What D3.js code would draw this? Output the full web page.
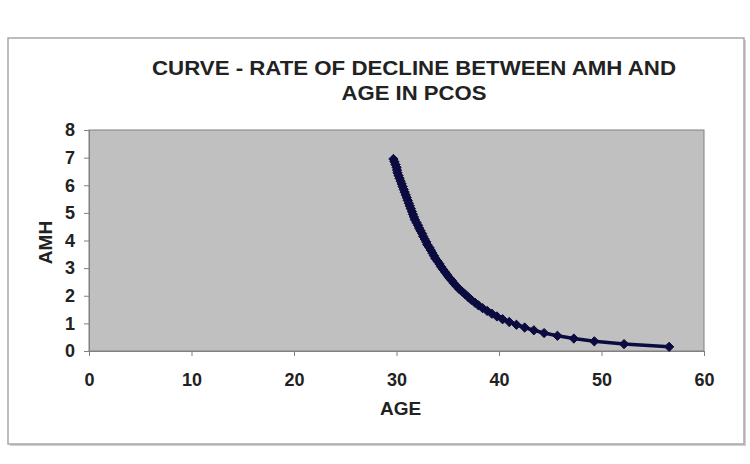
<!DOCTYPE html>
<html>
<head>
<meta charset="utf-8">
<script src="https://cdn.jsdelivr.net/npm/d3@7"></script>
<style>
  body { margin: 0; background: #fff; }
  text { font-family: "Liberation Sans", Arial, sans-serif; font-weight: bold; fill: #222; }
</style>
</head>
<body>
<svg id="chart"></svg>
<script>
// values
const ages = [29.7, 29.8, 29.9, 30.0, 30.05, 30.1, 30.2, 30.3, 30.4, 30.5,
              30.6, 30.7, 30.8, 30.9, 31.0, 31.1, 31.2, 31.3, 31.4, 31.5,
              31.6, 31.7, 31.8, 31.95, 32.1, 32.2, 32.35, 32.5, 32.6, 32.75,
              32.9, 33.0, 33.2, 33.35, 33.5, 33.65, 33.8, 34.0, 34.2, 34.35,
              34.55, 34.75, 34.95, 35.15, 35.4, 35.6, 35.85, 36.1, 36.4, 36.7,
              37.0, 37.3, 37.65, 38.0, 38.4, 38.85, 39.3, 39.8, 40.35, 41.0,
              41.7, 42.5, 43.4, 44.4, 45.7, 47.3, 49.3, 52.2, 56.6];
const amh = [6.95, 6.85, 6.75, 6.65, 6.55, 6.45, 6.35, 6.25, 6.15, 6.05,
             5.95, 5.85, 5.75, 5.65, 5.55, 5.45, 5.35, 5.25, 5.15, 5.05,
             4.95, 4.85, 4.75, 4.65, 4.55, 4.45, 4.35, 4.25, 4.15, 4.05,
             3.95, 3.85, 3.75, 3.65, 3.55, 3.45, 3.35, 3.25, 3.15, 3.05,
             2.95, 2.85, 2.75, 2.65, 2.55, 2.45, 2.35, 2.25, 2.15, 2.05,
             1.95, 1.85, 1.75, 1.65, 1.55, 1.45, 1.35, 1.25, 1.15, 1.05,
             0.95, 0.85, 0.75, 0.65, 0.55, 0.45, 0.35, 0.25, 0.15];
const xTicks = [0, 10, 20, 30, 40, 50, 60];
const yTicks = [0, 1, 2, 3, 4, 5, 6, 7, 8];
const titleLines = ["CURVE - RATE OF DECLINE BETWEEN AMH AND", "AGE IN PCOS"];
const titleWidths = [524, 145];

const points = ages.map((a, i) => ({age: a, amh: amh[i]}));

const svg = d3.select('#chart')
              .attr('width', 750)
              .attr('height', 464);

const margin = {left: 89, top: 130, right: 46, bottom: 113};
const width = 750, height = 464;

// chart frame
svg.append('rect')
   .attr('x', 10).attr('y', 40).attr('width', 736).attr('height', 406)
   .attr('fill', '#d0d0d0');
svg.append('rect')
   .attr('x', 8).attr('y', 38).attr('width', 736).attr('height', 406)
   .attr('fill', '#fff').attr('stroke', '#a8a8a8').attr('stroke-width', 1.5);

const xscale = d3.scaleLinear()
                 .domain([0, 60])
                 .range([margin.left, width - margin.right]);
const yscale = d3.scaleLinear()
                 .domain([0, 8])
                 .range([height - margin.bottom, margin.top]);

// plot area
svg.append('rect')
   .attr('x', xscale(0)).attr('y', yscale(8))
   .attr('width', xscale(60) - xscale(0))
   .attr('height', yscale(0) - yscale(8))
   .attr('fill', '#c0c0c0')
   .attr('stroke', '#808080');

const yaxis = svg.append('g')
   .attr('transform', `translate(${xscale(0)},0)`)
   .call(d3.axisLeft(yscale).tickValues(yTicks).tickSize(5).tickPadding(9));
const xaxis = svg.append('g')
   .attr('transform', `translate(0,${yscale(0)})`)
   .call(d3.axisBottom(xscale).tickValues(xTicks).tickSize(5).tickPadding(17));

[xaxis, yaxis].forEach(ax => {
  ax.select('.domain').attr('stroke', '#808080');
  ax.selectAll('.tick line').attr('stroke', '#808080');
  ax.selectAll('.tick text')
    .style('font-family', '"Liberation Sans", Arial, sans-serif')
    .style('font-weight', 'bold').style('font-size', '18px').attr('fill', '#222');
});

// curve
const line = d3.line().x(d => xscale(d.age)).y(d => yscale(d.amh));
svg.append('path')
   .datum(points)
   .attr('d', line)
   .attr('fill', 'none')
   .attr('stroke', '#0b0b40')
   .attr('stroke-width', 3.5);

svg.append('g').selectAll('path')
   .data(points)
   .join('path')
   .attr('transform', d => `translate(${xscale(d.age)},${yscale(d.amh)})`)
   .attr('d', d3.symbol(d3.symbolDiamond2, 55))
   .attr('fill', '#0b0b40')
   .attr('stroke', '#0b0b40');

// titles
svg.append('g').selectAll('text')
   .data(titleLines)
   .join('text')
   .attr('x', 414)
   .attr('y', (d, i) => 75 + i * 25)
   .attr('text-anchor', 'middle')
   .attr('textLength', (d, i) => titleWidths[i])
   .attr('lengthAdjust', 'spacingAndGlyphs')
   .style('font-size', '20px')
   .text(d => d);

svg.append('text')
   .attr('x', (xscale(0) + xscale(60)) / 2 + 4)
   .attr('y', 415)
   .attr('text-anchor', 'middle')
   .style('font-size', '19px')
   .text('AGE');

svg.append('text')
   .attr('transform', `translate(52,${(yscale(0) + yscale(8)) / 2 + 2}) rotate(-90)`)
   .attr('text-anchor', 'middle')
   .style('font-size', '19px')
   .text('AMH');
</script>
</body>
</html>
